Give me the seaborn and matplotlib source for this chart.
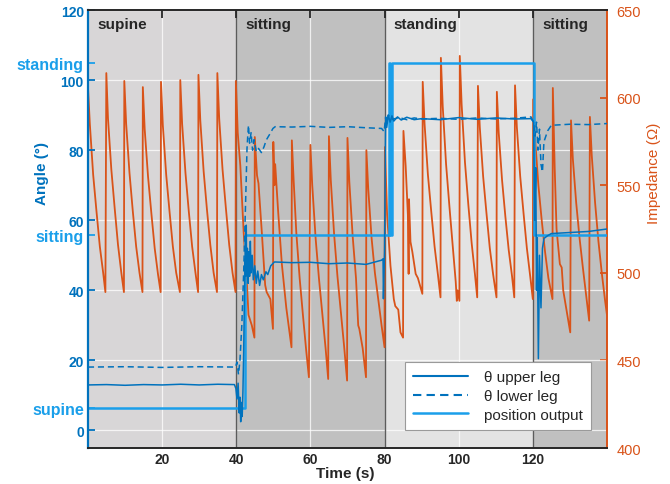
import matplotlib
matplotlib.use("Agg")
import matplotlib.pyplot as plt
from matplotlib.lines import Line2D
from matplotlib.transforms import blended_transform_factory
import pandas as pd
import seaborn as sns

# posture phases
phase_names = ["supine", "sitting", "standing", "sitting"]
phase_start = [0, 40, 80, 120]
phase_end = [40, 80, 120, 140]
phase_colors = ["#d8d6d7", "#c0c0c0", "#e3e3e3", "#c0c0c0"]

# classifier output levels (left axis)
level_names = ["supine", "sitting", "standing"]
level_values = [6.5, 55.7, 105]

# theta upper leg (deg)
upper_t = [0, 5, 10, 15, 20, 25, 30, 35, 39.5, 39.9, 40.2, 40.5, 40.8, 41.0, 41.2, 41.4,
           41.6, 41.8, 42.0, 42.2, 42.4, 42.6, 42.7, 42.8, 43.0, 43.2, 43.4, 43.6, 43.8,
           44.0, 44.3, 44.6, 45.0, 45.4, 45.8, 46.3, 46.8, 47.3, 48.0, 48.5, 49.3, 50.3,
           55, 60, 65, 70, 75, 79.2, 79.6, 79.7, 80.0, 80.3, 80.6, 81.0, 81.5, 82.0,
           82.5, 83.5, 84.5, 86, 88, 90, 95, 100, 105, 110, 115, 119.5, 120.2, 120.5,
           120.8, 121.0, 121.2, 121.5, 121.8, 122.2, 122.6, 123.0, 124.0, 125.0, 130,
           135, 140]
upper_v = [13.0, 13.1, 12.9, 13.1, 13.0, 13.2, 13.0, 13.2, 13.1, 12.0, 9.0, 13.5, 5.0,
           9.5, 2.5, 8.0, 4.0, 11.0, 22.0, 38.0, 49.0, 44.0, 58.6, 45.0, 52.0, 42.0,
           51.0, 44.0, 54.0, 45.0, 50.0, 43.0, 47.0, 42.0, 45.5, 41.4, 44.5, 43.0, 45.3,
           44.5, 47.0, 48.1, 47.9, 48.0, 47.6, 47.8, 47.4, 48.6, 49.0, 37.6, 51.0, 89.0,
           86.5, 90.0, 88.0, 89.8, 88.3, 89.5, 88.6, 89.4, 88.7, 89.0, 88.7, 89.3, 88.8,
           89.2, 88.9, 89.0, 88.0, 60.0, 75.0, 40.0, 55.0, 20.5, 50.0, 35.0, 52.0, 54.8,
           55.6, 56.2, 56.5, 56.8, 57.5]

# theta lower leg (deg)
lower_t = [0, 10, 20, 30, 39.8, 40.2, 40.6, 41.0, 41.5, 42.0, 42.4, 42.7, 42.9, 43.1,
           43.3, 43.6, 44.0, 44.4, 44.8, 45.4, 46.0, 46.8, 47.5, 48.1, 49.0, 49.9, 50.5,
           55, 60, 65, 70, 75, 79.2, 79.9, 80.3, 80.6, 81.0, 82, 84, 86, 88, 90, 95,
           100, 105, 110, 115, 119.5, 120.2, 120.6, 121.0, 121.4, 121.8, 122.2, 122.6,
           123.0, 124.0, 125.0, 130, 135, 140]
lower_v = [18.1, 18.2, 18.0, 18.2, 18.1, 19.5, 16.0, 20.0, 30.0, 45.0, 60.5, 72.0, 80.5,
           84.0, 87.1, 82.0, 85.0, 80.0, 83.0, 79.6, 80.5, 79.3, 81.0, 82.9, 84.5, 86.2,
           86.7, 86.6, 86.8, 86.5, 86.7, 86.4, 86.2, 85.3, 89.5, 88.0, 90.0, 88.8, 89.3,
           88.7, 89.2, 88.9, 89.1, 88.8, 89.2, 88.9, 89.1, 89.5, 88.0, 84.0, 88.0, 80.0,
           86.0, 76.0, 73.8, 82.4, 85.5, 87.1, 87.4, 87.3, 87.6]

# position output (steps between levels)
pos_t = [0, 42.3, 42.3, 81.3, 81.3, 81.6, 81.6, 81.9, 81.9, 120.4, 120.4, 140]
pos_v = [6.5, 6.5, 55.7, 55.7, 105, 105, 55.7, 55.7, 105, 105, 55.7, 55.7]

# impedance (ohm), read cycle by cycle
imp_t = [0, 0.5, 1.4, 2.3, 3.2, 4.1, 4.7,
         4.95, 5.4, 6.3, 7.2, 8.1, 9.0, 9.7,
         9.8, 10.3, 11.2, 12.1, 13.0, 13.9, 14.7,
         14.8, 15.3, 16.2, 17.1, 18.0, 18.9, 19.6,
         19.7, 20.2, 21.1, 22.0, 22.9, 23.8, 24.8,
         24.9, 25.4, 26.3, 27.2, 28.1, 29.0, 29.7,
         29.8, 30.3, 31.2, 32.1, 33.0, 33.9, 34.8,
         34.9, 35.4, 36.3, 37.2, 38.1, 39.0, 39.8,
         39.9, 40.4, 41.1, 42.0, 42.9, 43.3, 43.6, 44.2, 44.9,
         45.0, 45.6, 46.0, 46.9, 47.8, 48.2, 49.2, 49.9,
         50.0, 50.3, 50.5, 51.3, 52.3, 53.5, 54.9,
         55.0, 55.5, 56.2, 57.1, 58.0, 58.9, 59.6,
         60.0, 60.5, 61.4, 62.3, 63.2, 64.1, 64.8,
         65.0, 65.5, 66.4, 67.3, 68.2, 69.1, 69.9,
         70.0, 70.5, 71.4, 72.3, 72.9, 73.2, 74.1, 75.0,
         75.1, 75.6, 76.5, 77.4, 78.3, 79.2, 80.0,
         80.1, 80.7, 81.6, 82.5, 82.9, 83.7, 84.3, 85.0,
         85.1, 85.7, 86.3, 86.5, 86.6, 87.0, 87.5, 88.4, 89.0, 90.2,
         90.3, 90.8, 91.7, 92.6, 93.5, 94.4, 95.1,
         95.2, 95.7, 96.6, 97.5, 98.4, 99.2, 99.5, 99.7, 100.2,
         100.3, 100.8, 101.7, 102.6, 103.5, 104.4, 105.0,
         105.2, 105.7, 106.6, 107.5, 108.4, 109.3, 110.2,
         110.3, 110.8, 111.7, 112.6, 113.5, 114.4, 115.0,
         115.2, 115.7, 116.6, 117.5, 118.4, 119.3, 120.0,
         120.1, 120.6, 121.5, 122.4, 123.3, 124.2, 125.3,
         125.4, 125.9, 126.4, 127.3, 127.8, 128.2, 129.0, 130.1,
         130.3, 130.8, 131.7, 132.6, 133.5, 134.4, 135.2,
         135.4, 135.9, 136.8, 137.7, 138.6, 139.5, 140]
imp_v = [606, 585, 556, 535, 515, 500, 489,
         614, 588, 559, 537, 516, 500, 489,
         609.5, 585, 557, 535, 515, 500, 489,
         606, 582, 555, 534, 514, 499, 489,
         609, 584, 556, 535, 515, 500, 489,
         610, 585, 557, 535, 515, 500, 489,
         613, 587, 558, 536, 516, 500, 489,
         614, 588, 559, 537, 516, 500, 489,
         609.5, 580, 561, 523, 493, 476, 474, 470, 463,
         577.5, 555.6, 551, 523, 493, 489, 485, 468,
         574.7, 550, 562, 535, 505, 480, 457.5,
         575.6, 552, 523, 497, 475.6, 455, 440.4,
         573, 550, 520, 497, 477, 457, 439.4,
         578, 553, 522, 498, 478, 458, 438.5,
         577, 552, 521, 497, 470, 468, 457, 440.4,
         570, 548, 520, 500, 485, 470, 457.5,
         571.8, 533, 504, 485, 481, 479, 466, 463,
         581, 561, 533, 499.4, 542, 517.7, 512, 499.4, 497, 488,
         609, 585, 556, 535, 515, 499, 486,
         622.7, 595, 562, 538, 515, 495, 484, 490, 484,
         623.8, 596, 563, 539, 517, 499, 486,
         606.7, 583, 555, 534, 514, 499, 486,
         603.3, 580, 553, 532, 513, 498, 486,
         607, 583, 555, 534, 514, 498, 485,
         599, 577, 550, 530, 512, 497, 485,
         605.5, 560, 525, 505, 503, 490, 480, 466,
         587, 565, 540, 520, 503, 487, 472.7,
         589, 567, 540, 518, 500, 484, 476]

blue = "#0072BD"
light_blue = "#1a9fea"
orange = "#D95319"
dark = "#262626"

sns.set_style("white")
plt.rcParams["font.family"] = ["Liberation Sans", "DejaVu Sans"]

fig = plt.figure(figsize=(6.7, 4.85), dpi=100)
ax = fig.add_axes([0.1313, 0.0742, 0.7746, 0.9031])
ax2 = ax.twinx()

ax.set_xlim(0, 140)
ax.set_ylim(-5, 120)
ax2.set_ylim(400, 650)
angle_ticks = [0, 20, 40, 60, 80, 100, 120]
time_ticks = [20, 40, 60, 80, 100, 120]

# backgrounds, grid and impedance on the lower (right) axis
for x0, x1, c in zip(phase_start, phase_end, phase_colors):
    ax2.axvspan(x0, x1, color=c, lw=0, zorder=0)
grid_tr = blended_transform_factory(ax2.transAxes, ax.transData)
for y in angle_ticks:
    ax2.add_line(Line2D([0, 1], [y, y], transform=grid_tr, color="white",
                        lw=0.9, alpha=0.75, zorder=1))
for x in time_ticks:
    ax2.axvline(x, color="white", lw=0.9, alpha=0.75, zorder=1)
for x0 in phase_start[1:]:
    ax2.axvline(x0, color="#5c5c5c", lw=1.0, zorder=1.5)

imp = pd.DataFrame({"t": imp_t, "z": imp_v})
sns.lineplot(data=imp, x="t", y="z", ax=ax2, sort=False, estimator=None,
             color=orange, lw=1.3, zorder=2)

# angles on the upper (left) axis
ax.set_zorder(ax2.get_zorder() + 1)
ax.patch.set_visible(False)

up = pd.DataFrame({"t": upper_t, "a": upper_v})
lo = pd.DataFrame({"t": lower_t, "a": lower_v})
po = pd.DataFrame({"t": pos_t, "a": pos_v})
sns.lineplot(data=po, x="t", y="a", ax=ax, sort=False, estimator=None,
             color=light_blue, lw=1.8)
sns.lineplot(data=lo, x="t", y="a", ax=ax, sort=False, estimator=None,
             color=blue, lw=1.1, linestyle=(0, (4, 2.5)))
sns.lineplot(data=up, x="t", y="a", ax=ax, sort=False, estimator=None,
             color=blue, lw=1.1)

ax.set_xlim(0, 140)
ax.set_ylim(-5, 120)
ax.set_xticks(time_ticks)
ax.set_yticks(angle_ticks)
ax.set_yticks(level_values, labels=level_names, minor=True)
ax2.set_yticks([400, 450, 500, 550, 600, 650])
ax.grid(False)
ax2.grid(False)

for name, x0 in zip(phase_names, phase_start):
    ax.text(x0 + 2.5, 0.968, name, transform=ax.get_xaxis_transform(),
            fontsize=11, fontweight="bold", color=dark, va="center", ha="left")

ax.tick_params(axis="x", which="major", direction="in", length=6, width=1.3,
               top=True, colors=dark, labelsize=10, pad=3)
ax.tick_params(axis="y", which="major", direction="in", length=5, width=1.3,
               colors=blue, labelsize=10, pad=3)
ax.tick_params(axis="y", which="minor", direction="in", length=5, width=1.3,
               colors=light_blue, labelsize=11.5, pad=3)
ax2.tick_params(axis="y", direction="in", length=5, width=1.3, colors=orange,
                labelsize=10.5, pad=7)
for lab in ax.get_xticklabels() + ax.get_yticklabels(which="both"):
    lab.set_fontweight("bold")

for s in ["top", "bottom"]:
    ax.spines[s].set_color(dark)
    ax.spines[s].set_linewidth(1.4)
ax.spines["left"].set_color(blue)
ax.spines["left"].set_linewidth(1.6)
ax.spines["right"].set_visible(False)
for s in ["top", "bottom", "left"]:
    ax2.spines[s].set_visible(False)
ax2.spines["right"].set_color(orange)
ax2.spines["right"].set_linewidth(1.4)

ax.set_xlabel("Time (s)", fontsize=11, fontweight="bold", color=dark)
ax.xaxis.set_label_coords(0.495, -0.04)
ax.set_ylabel("Angle (°)", fontsize=11, fontweight="bold", color=blue)
ax.yaxis.set_label_coords(-0.075, 0.63)
ax2.set_ylabel("Impedance (Ω)", fontsize=11, color=orange, rotation=90)
ax2.yaxis.set_label_coords(1.077, 0.63)

handles = [Line2D([], [], color=blue, lw=1.5),
           Line2D([], [], color=blue, lw=1.5, linestyle=(0, (4, 2.5))),
           Line2D([], [], color=light_blue, lw=1.8)]
leg = ax.legend(handles, ["θ upper leg", "θ lower leg", "position output"],
                loc="lower right", bbox_to_anchor=(0.969, 0.041), fontsize=11,
                handlelength=3.6, handletextpad=1.0, labelspacing=0.3,
                borderpad=0.55, borderaxespad=0, fancybox=False, framealpha=1,
                edgecolor="#9a9a9a")
leg.get_frame().set_linewidth(0.8)
for t in leg.get_texts():
    t.set_color(dark)

fig.savefig("out.png", dpi=100)
